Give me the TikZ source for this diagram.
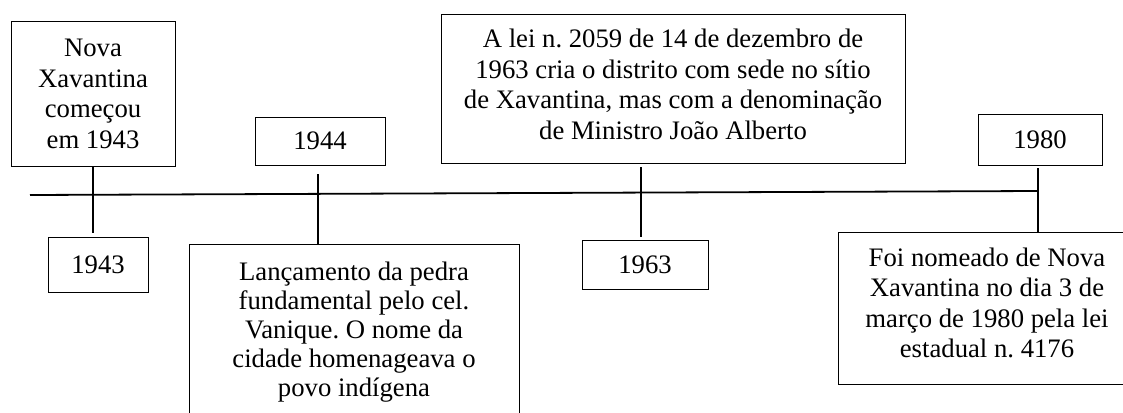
\documentclass[tikz,border=0pt]{standalone}
\usepackage{fontspec}
\setmainfont{Liberation Serif}
\frenchspacing
\newcommand{\lowpad}[1]{\rule[-#1]{0pt}{1pt}}
\begin{document}
\begin{tikzpicture}[x=1pt,y=-1pt,
  box/.style={draw, line width=1pt, align=center, inner sep=0pt,
    font=\fontsize{26.7}{30.5}\selectfont\frenchspacing},
  conn/.style={line width=1.3pt},
  tline/.style={line width=1.8pt}]
\useasboundingbox (0,0) rectangle (1123,412);
\clip (0,0) rectangle (1123,412);

% boxes above / below the timeline
\node[box, minimum width=164pt, minimum height=144pt] (nova) at (93,94)
  {Nova\\Xavantina\\começou\\em 1943};
\node[box, minimum width=100pt, minimum height=55pt] (b1943) at (98,264.5) {1943};
\node[box, minimum width=130pt, minimum height=48pt] (b1944) at (320,141) {1944};
\node[box, anchor=north, minimum width=330pt] (lanc) at (354,244)
  {\begin{minipage}[t][190pt][t]{320pt}\centering\baselineskip=29pt
   \vspace*{17pt}Lançamento da pedra\\fundamental pelo cel.\\Vanique. O nome da\\cidade homenageava o\\povo indígena\end{minipage}};
\node[box, minimum width=464pt, minimum height=148pt] (lei) at (673,89)
  {A lei n. 2059 de 14 de dezembro de\\1963 cria o distrito com sede no sítio\\de Xavantina, mas com a denominação\\de Ministro João Alberto\lowpad{10pt}};
\node[box, minimum width=126pt, minimum height=49pt] (b1963) at (645,264.5) {1963};
\node[box, minimum width=124pt, minimum height=51pt] (b1980) at (1040,139.5) {1980};
\node[box, minimum width=298pt, minimum height=152pt] (foi) at (987,308)
  {Foi nomeado de Nova\\Xavantina no dia 3 de\\março de 1980 pela lei\\estadual n. 4176\lowpad{11pt}};

% timeline
\coordinate (t0) at (30,195);
\coordinate (t1) at (1038,191);
\draw[tline] (t0) -- (t1);

% connectors
\coordinate (c1) at (93,233);
\draw[conn] (nova.south) -- (c1);
\coordinate (c2) at (318,174);
\draw[conn] (c2) -- (c2 |- lanc.north);
\coordinate (c3a) at (641,167);
\coordinate (c3b) at (641,237);
\draw[conn] (c3a) -- (c3b);
\coordinate (c4) at (1038,168);
\draw[conn] (c4) -- (c4 |- foi.north);
\end{tikzpicture}
\end{document}
